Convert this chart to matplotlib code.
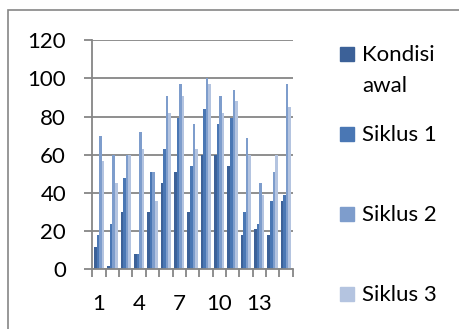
import numpy as np
import matplotlib
matplotlib.use('Agg')
import matplotlib.pyplot as plt
from matplotlib.patches import Rectangle

plt.rcParams['font.family'] = ['Lato', 'DejaVu Sans']
plt.rcParams['font.size'] = 16

categories = list(range(1, 16))
series = ['Kondisi\nawal', 'Siklus 1', 'Siklus 2', 'Siklus 3']
kondisi_awal = [12, 2, 30, 8, 30, 45, 51, 30, 60, 60, 54, 18, 21, 18, 36]
siklus_1 = [18, 24, 48, 8, 51, 63, 79, 54, 84, 76, 79, 30, 24, 36, 39]
siklus_2 = [70, 60, 60, 72, 51, 91, 97, 76, 100, 91, 94, 69, 45, 51, 97]
siklus_3 = [57, 45, 60, 63, 36, 82, 91, 63, 97, 82, 88, 60, 39, 60, 85]
xlabels = ['1', '4', '7', '10', '13']

colors = ['#3c6198', '#4a77b4', '#7e9dcc', '#b4c4e0']
gray = '#868686'

W, H = 460, 329
fig = plt.figure(figsize=(W / 100, H / 100), dpi=100)
ax = fig.add_axes([0.201, 0.181, 0.435, 0.697])

ind = np.arange(len(categories))
width = 0.19
values = [kondisi_awal, siklus_1, siklus_2, siklus_3]
for i, (vals, c) in enumerate(zip(values, colors)):
    ax.bar(ind + (i - 1.5) * width, vals, width, color=c, linewidth=0)

ax.set_xlim(-0.5, len(categories) - 0.5)
ax.set_ylim(0, 120)
ax.set_yticks(np.arange(0, 121, 20))
ax.set_xticks([0, 3, 6, 9, 12])
ax.set_xticklabels(xlabels)
ax.set_xticks(np.arange(-0.5, len(categories)), minor=True)
ax.tick_params(axis='x', which='major', length=0, pad=18)
ax.tick_params(axis='x', which='minor', length=6, width=1.3, color=gray)
ax.tick_params(axis='y', length=6, width=1.3, color=gray, pad=13)

ax.grid(axis='y', color=gray, linewidth=1.3)
ax.set_axisbelow(True)
for side in ['top', 'right']:
    ax.spines[side].set_visible(False)
for side in ['left', 'bottom']:
    ax.spines[side].set_color(gray)
    ax.spines[side].set_linewidth(1.3)

# legend entries down the right-hand side (pixel rows from the top)
legend_rows = [54, 134, 214, 294]
line_step = 31
for label, c, row in zip(series, colors, legend_rows):
    fig.patches.append(Rectangle((340 / W, 1 - (row + 7) / H), 14 / W, 14 / H,
                                 transform=fig.transFigure, color=c))
    for k, line in enumerate(label.split('\n')):
        fig.text(362 / W, 1 - (row + 1 + k * line_step) / H, line, va='center')

# chart border
fig.patches.append(Rectangle((8 / W, -0.1), 1.1, 1.1 - 10 / H,
                             transform=fig.transFigure, fill=False,
                             edgecolor=gray, linewidth=1.2))

plt.savefig('out.png', dpi=100)
